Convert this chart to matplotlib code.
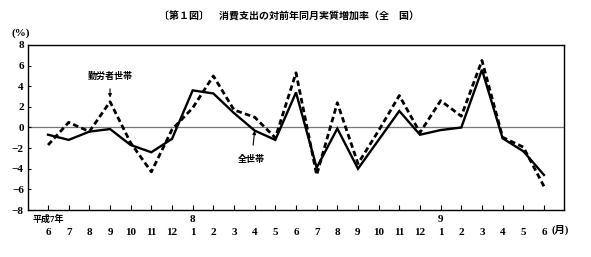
import matplotlib
matplotlib.use("Agg")
import matplotlib.pyplot as plt
import numpy as np

plt.rcParams['font.family'] = ['Liberation Serif', 'Noto Sans CJK JP', 'DejaVu Sans']
plt.rcParams['axes.unicode_minus'] = True

months = ["6", "7", "8", "9", "10", "11", "12", "1", "2", "3", "4", "5",
          "6", "7", "8", "9", "10", "11", "12", "1", "2", "3", "4", "5", "6"]
year_labels = {0: "平成7年", 7: "8", 19: "9"}

all_households = [-0.7, -1.2, -0.4, -0.15, -1.7, -2.4, -1.1, 3.6, 3.3, 1.4, -0.3, -1.2,
                  3.4, -3.9, -0.1, -4.0, -1.2, 1.6, -0.7, -0.25, 0.0, 5.6, -1.05, -2.3, -4.6]
worker_households = [-1.7, 0.5, -0.4, 2.5, -1.5, -4.3, -0.2, 1.9, 5.0, 1.7, 1.0, -1.0,
                     5.3, -4.6, 2.4, -3.5, -0.3, 3.1, -0.5, 2.6, 1.1, 6.5, -0.95, -1.9, -5.7]
yticks = [8, 6, 4, 2, 0, -2, -4, -6, -8]

W, H = 591, 257
fig = plt.figure(figsize=(W / 100, H / 100), dpi=100)
ax_l, ax_r, ax_t, ax_b = 28, 564, 45, 210
ax = fig.add_axes([ax_l / W, 1 - ax_b / H, (ax_r - ax_l) / W, (ax_b - ax_t) / H])

x = np.arange(len(months))
ax.axhline(0, color='#777777', lw=0.9, zorder=1)
ax.plot(x, all_households, color='black', lw=1.7, solid_joinstyle='miter', zorder=3)
ax.plot(x, worker_households, color='black', lw=2.0, linestyle=(0, (2.0, 1.2)), zorder=2)

ax.set_xlim(-0.97, len(months) - 1 + 0.97)
ax.set_ylim(-8, 8)
for s in ax.spines.values():
    s.set_linewidth(1.0)
    s.set_color('black')

ax.set_yticks(yticks)
ax.set_yticklabels([str(v).replace('-', '\u2212') for v in yticks],
                   fontsize=8, fontweight='bold')
ax.tick_params(axis='y', direction='in', length=2.5, width=0.8, pad=3)

ax.set_xticks(x)
ax.set_xticklabels(months, fontsize=8, fontweight='bold')
ax.tick_params(axis='x', direction='in', length=3.5, width=0.8, pad=13)

trans = ax.get_xaxis_transform()
for i, lab in year_labels.items():
    fs = 6.5 if i == 0 else 8
    ax.text(i, -9 / 165, lab, transform=trans, ha='center', va='center',
            fontsize=fs, fontweight='bold')
ax.text(len(months) - 1 + 0.38, -20 / 165, "(月)", transform=trans, ha='left',
        va='center', fontsize=7.5, fontweight='bold')

fig.text(12 / W, 1 - 33 / H, "(%)", ha='left', va='center', fontsize=8, fontweight='bold')
fig.text(289 / W, 1 - 17 / H, "〔第１図〕　消費支出の対前年同月実質増加率（全　国）",
         ha='center', va='center', fontsize=7.2, fontweight='bold',
         family=['Noto Sans CJK JP', 'DejaVu Sans'])

ax.annotate("勤労者世帯", xy=(3, 2.9), xytext=(3, 5.0), ha='center', va='center',
            fontsize=6.5, fontweight='bold', family=['Noto Sans CJK JP', 'DejaVu Sans'],
            arrowprops=dict(arrowstyle='-|>', color='black', lw=0.8,
                            mutation_scale=5, shrinkA=4, shrinkB=0))
ax.annotate("全世帯", xy=(10, -0.3), xytext=(9.85, -3.1), ha='center', va='center',
            fontsize=6.5, fontweight='bold', family=['Noto Sans CJK JP', 'DejaVu Sans'],
            arrowprops=dict(arrowstyle='-|>', color='black', lw=0.8,
                            mutation_scale=5, shrinkA=5, shrinkB=0))

fig.savefig("out.png", dpi=100, facecolor='white')
